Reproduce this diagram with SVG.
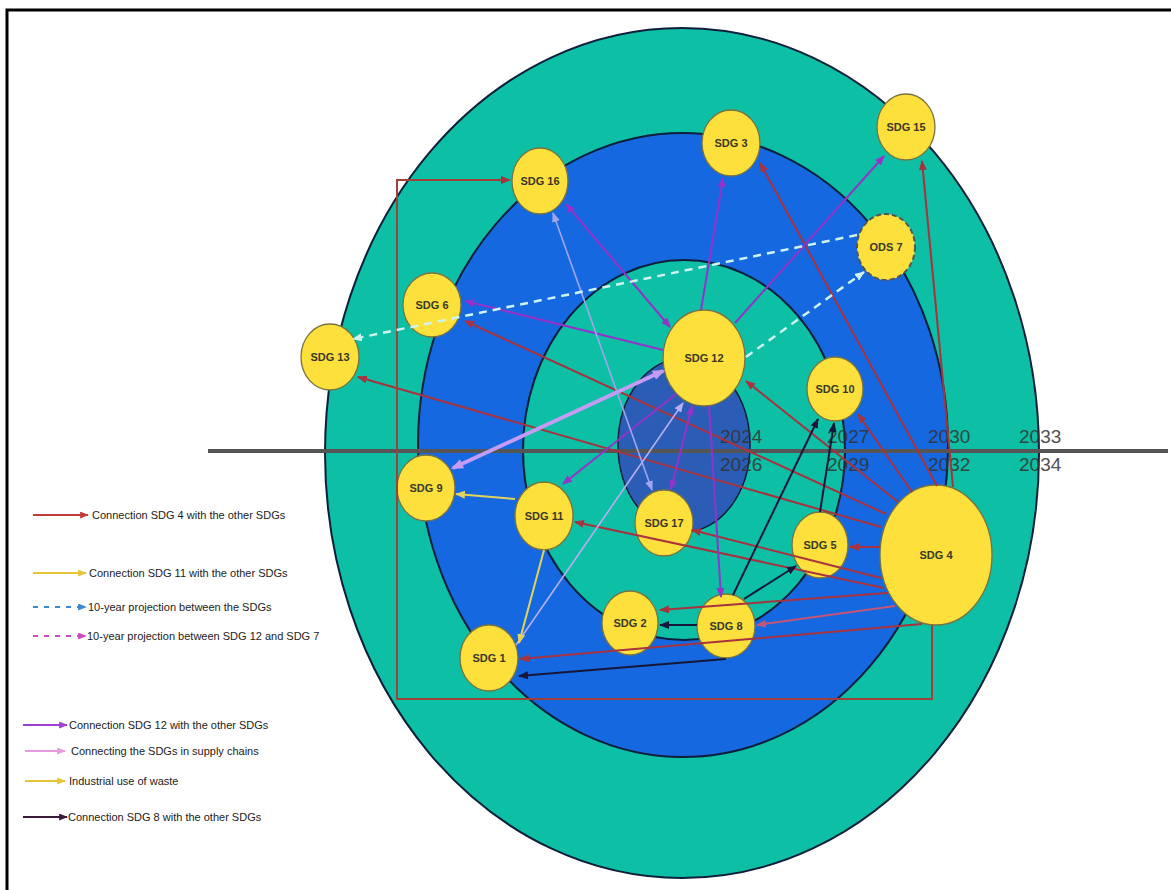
<svg xmlns="http://www.w3.org/2000/svg" width="1171" height="890" viewBox="0 0 1171 890">
<style>
.lbl{font-family:"Liberation Sans",Arial,sans-serif;font-size:11px;font-weight:bold;fill:#3a3826;text-anchor:middle}
.leg{font-family:"Liberation Sans",Arial,sans-serif;font-size:11px;fill:#222}
.yr{font-family:"Liberation Sans",Arial,sans-serif;font-size:19px;fill:#333;opacity:0.85}
.node{fill:#FDE03C;stroke:#7a7340;stroke-width:1.3}
.c{fill:none;stroke-width:2}
.red{stroke:#A8323E}
.pur{stroke:#9433C9}
.lav{stroke:#C49BF5;stroke-width:4}
.lav2{stroke:#B8AEF5;stroke-width:1.6}
.blu{stroke:#9FA6EE;stroke-width:1.6}
.yel{stroke:#E3D35A}
.cyan{stroke:#CFF3EF;stroke-width:2.5;stroke-dasharray:8 6}
.dark{stroke:#15173A}
</style>
<defs>
<marker id="mR" viewBox="0 0 10 8" refX="9" refY="4" markerWidth="10" markerHeight="8" markerUnits="userSpaceOnUse" orient="auto-start-reverse"><path d="M0,0 L10,4 L0,8 z" fill="#A8323E"/></marker>
<marker id="mP" viewBox="0 0 10 8" refX="9" refY="4" markerWidth="10" markerHeight="8" markerUnits="userSpaceOnUse" orient="auto-start-reverse"><path d="M0,0 L10,4 L0,8 z" fill="#C55675"/></marker>
<marker id="mU" viewBox="0 0 10 8" refX="9" refY="4" markerWidth="10" markerHeight="8" markerUnits="userSpaceOnUse" orient="auto-start-reverse"><path d="M0,0 L10,4 L0,8 z" fill="#9433C9"/></marker>
<marker id="mL" viewBox="0 0 10 8" refX="8" refY="4" markerWidth="13" markerHeight="10" markerUnits="userSpaceOnUse" orient="auto-start-reverse"><path d="M0,0 L10,4 L0,8 z" fill="#C49BF5"/></marker>
<marker id="mL2" viewBox="0 0 10 8" refX="9" refY="4" markerWidth="10" markerHeight="8" markerUnits="userSpaceOnUse" orient="auto-start-reverse"><path d="M0,0 L10,4 L0,8 z" fill="#B8AEF5"/></marker>
<marker id="mB" viewBox="0 0 10 8" refX="9" refY="4" markerWidth="10" markerHeight="8" markerUnits="userSpaceOnUse" orient="auto-start-reverse"><path d="M0,0 L10,4 L0,8 z" fill="#9FA6EE"/></marker>
<marker id="mY" viewBox="0 0 10 8" refX="9" refY="4" markerWidth="10" markerHeight="8" markerUnits="userSpaceOnUse" orient="auto-start-reverse"><path d="M0,0 L10,4 L0,8 z" fill="#E3D35A"/></marker>
<marker id="mC" viewBox="0 0 10 8" refX="9" refY="4" markerWidth="10" markerHeight="8" markerUnits="userSpaceOnUse" orient="auto-start-reverse"><path d="M0,0 L10,4 L0,8 z" fill="#CFF3EF"/></marker>
<marker id="mD" viewBox="0 0 10 8" refX="9" refY="4" markerWidth="10" markerHeight="8" markerUnits="userSpaceOnUse" orient="auto-start-reverse"><path d="M0,0 L10,4 L0,8 z" fill="#15173A"/></marker>
<marker id="lR" viewBox="0 0 10 8" refX="9" refY="4" markerWidth="9" markerHeight="7" markerUnits="userSpaceOnUse" orient="auto"><path d="M0,0 L10,4 L0,8 z" fill="#C23B3B"/></marker>
<marker id="lY" viewBox="0 0 10 8" refX="9" refY="4" markerWidth="9" markerHeight="7" markerUnits="userSpaceOnUse" orient="auto"><path d="M0,0 L10,4 L0,8 z" fill="#E6C43C"/></marker>
<marker id="lB" viewBox="0 0 10 8" refX="9" refY="4" markerWidth="9" markerHeight="7" markerUnits="userSpaceOnUse" orient="auto"><path d="M0,0 L10,4 L0,8 z" fill="#3A8AD0"/></marker>
<marker id="lM" viewBox="0 0 10 8" refX="9" refY="4" markerWidth="9" markerHeight="7" markerUnits="userSpaceOnUse" orient="auto"><path d="M0,0 L10,4 L0,8 z" fill="#D04AC8"/></marker>
<marker id="lU" viewBox="0 0 10 8" refX="9" refY="4" markerWidth="9" markerHeight="7" markerUnits="userSpaceOnUse" orient="auto"><path d="M0,0 L10,4 L0,8 z" fill="#A040D0"/></marker>
<marker id="lK" viewBox="0 0 10 8" refX="9" refY="4" markerWidth="9" markerHeight="7" markerUnits="userSpaceOnUse" orient="auto"><path d="M0,0 L10,4 L0,8 z" fill="#E89AE0"/></marker>
<marker id="lD" viewBox="0 0 10 8" refX="9" refY="4" markerWidth="9" markerHeight="7" markerUnits="userSpaceOnUse" orient="auto"><path d="M0,0 L10,4 L0,8 z" fill="#3A1A3A"/></marker>
</defs>
<rect width="1171" height="890" fill="#fff"/>
<rect x="7" y="10" width="1200" height="920" fill="none" stroke="#000" stroke-width="3"/>
<g id="rings">
<ellipse cx="682" cy="453" rx="357" ry="425" fill="#0CBFA5" stroke="#0D1F3A" stroke-width="2"/>
<ellipse cx="683" cy="445" rx="265" ry="312" fill="#1568E0" stroke="#0D1F3A" stroke-width="2"/>
<ellipse cx="684" cy="450" rx="161" ry="190" fill="#0CBFA5" stroke="#0D1F3A" stroke-width="2"/>
<ellipse cx="684" cy="445" rx="66" ry="87" fill="#2C5DB6" stroke="#0D1F3A" stroke-width="1.5"/>
</g>
<g id="timeline">
<line x1="208" y1="451" x2="1168" y2="451" stroke="#555" stroke-width="4"/>
<text class="yr" x="720" y="443">2024</text>
<text class="yr" x="720" y="471">2026</text>
<text class="yr" x="827" y="443">2027</text>
<text class="yr" x="827" y="471">2029</text>
<text class="yr" x="928" y="443">2030</text>
<text class="yr" x="928" y="471">2032</text>
<text class="yr" x="1019" y="443">2033</text>
<text class="yr" x="1019" y="471">2034</text>
</g>
<g id="nodes">
<g id="sdg3"><ellipse class="node" cx="731" cy="143" rx="29" ry="33"/><text class="lbl" x="731" y="147">SDG 3</text></g>
<g id="sdg15"><ellipse class="node" cx="906" cy="127" rx="29" ry="33"/><text class="lbl" x="906" y="131">SDG 15</text></g>
<g id="sdg16"><ellipse class="node" cx="540" cy="181" rx="28" ry="33"/><text class="lbl" x="540" y="185">SDG 16</text></g>
<g id="sdg6"><ellipse class="node" cx="432" cy="305" rx="29" ry="32"/><text class="lbl" x="432" y="309">SDG 6</text></g>
<g id="sdg13"><ellipse class="node" cx="330" cy="357" rx="29" ry="33"/><text class="lbl" x="330" y="361">SDG 13</text></g>
<g id="ods7"><ellipse cx="886" cy="247" rx="29" ry="33" fill="#FDE03C" stroke="#555" stroke-width="2" stroke-dasharray="5 3"/><text class="lbl" x="886" y="251">ODS 7</text></g>
<g id="sdg12"><ellipse class="node" cx="704" cy="358" rx="41" ry="48"/><text class="lbl" x="704" y="362">SDG 12</text></g>
<g id="sdg10"><ellipse class="node" cx="835" cy="389" rx="28" ry="32"/><text class="lbl" x="835" y="393">SDG 10</text></g>
<g id="sdg17"><ellipse class="node" cx="664" cy="523" rx="29" ry="33"/><text class="lbl" x="664" y="527">SDG 17</text></g>
<g id="sdg9"><ellipse class="node" cx="426" cy="488" rx="29" ry="33"/><text class="lbl" x="426" y="492">SDG 9</text></g>
<g id="sdg11"><ellipse class="node" cx="544" cy="516" rx="29" ry="34"/><text class="lbl" x="544" y="520">SDG 11</text></g>
<g id="sdg2"><ellipse class="node" cx="630" cy="623" rx="28" ry="32"/><text class="lbl" x="630" y="627">SDG 2</text></g>
<g id="sdg1"><ellipse class="node" cx="489" cy="658" rx="29" ry="33"/><text class="lbl" x="489" y="662">SDG 1</text></g>
<g id="sdg8"><ellipse class="node" cx="726" cy="626" rx="29" ry="32"/><text class="lbl" x="726" y="630">SDG 8</text></g>
<g id="sdg5"><ellipse class="node" cx="820" cy="545" rx="28" ry="33"/><text class="lbl" x="820" y="549">SDG 5</text></g>
<g id="sdg4"><ellipse class="node" cx="936" cy="555" rx="56" ry="70"/><text class="lbl" x="936" y="559">SDG 4</text></g>
</g>
<g id="connectors">
<path class="c red" d="M953,487 L922,161" marker-end="url(#mR)"/>
<path class="c red" d="M937,486 L760,163" marker-end="url(#mR)"/>
<path class="c red" d="M912,492 L858,414" marker-end="url(#mR)"/>
<path class="c red" d="M898,502 L746,381" marker-end="url(#mR)"/>
<path class="c red" d="M886,514 L465,321" marker-end="url(#mR)"/>
<path class="c red" d="M881,527 L358,377" marker-end="url(#mR)"/>
<path class="c red" d="M880,547 L850,547" marker-end="url(#mR)"/>
<path class="c red" d="M881,578 L692,530" marker-end="url(#mR)"/>
<path class="c red" d="M884,588 L575,522" marker-end="url(#mR)"/>
<path class="c red" d="M887,593 L660,610" marker-end="url(#mR)"/>
<path class="c" stroke="#C55675" d="M895,606 L757,625" marker-end="url(#mP)"/>
<path class="c red" d="M922,624 L520,659" marker-end="url(#mR)"/>
<path class="c" stroke="#A0403A" d="M932,625 L932,699 L397,699 L397,180 L510,180" marker-end="url(#mR)"/>
<path class="c pur" d="M701,310 L723,178" marker-end="url(#mU)"/>
<path class="c pur" d="M735,323 L884,156" marker-end="url(#mU)"/>
<path class="c pur" d="M670,327 L566,204" marker-start="url(#mU)" marker-end="url(#mU)"/>
<path class="c pur" d="M663,350 L465,301" marker-end="url(#mU)"/>
<path class="c pur" d="M676,394 L563,484" marker-end="url(#mU)"/>
<path class="c pur" d="M692,406 L671,489" marker-start="url(#mU)" marker-end="url(#mU)"/>
<path class="c pur" d="M709,406 L721,597" marker-end="url(#mU)"/>
<path class="c lav" d="M663,371 L453,468" marker-start="url(#mL)" marker-end="url(#mL)"/>
<path class="c lav2" d="M516,645 L683,403" marker-end="url(#mL2)"/>
<path class="c blu" d="M553,213 L652,490" marker-start="url(#mB)" marker-end="url(#mB)"/>
<path class="c yel" d="M515,499 L456,494" marker-end="url(#mY)"/>
<path class="c yel" d="M544,550 L519,643" marker-end="url(#mY)"/>
<path class="c cyan" d="M857,235 L353,339" marker-end="url(#mC)"/>
<path class="c cyan" d="M746,357 L864,272" marker-end="url(#mC)"/>
<path class="c dark" d="M733,595 L818,419" marker-end="url(#mD)"/>
<path class="c dark" d="M744,599 L796,566" marker-end="url(#mD)"/>
<path class="c dark" d="M697,625 L660,625" marker-end="url(#mD)"/>
<path class="c dark" d="M726,659 L519,676" marker-end="url(#mD)"/>
<path class="c dark" d="M820,512 L834,423" marker-end="url(#mD)"/>
</g>
<g id="legend">
<line x1="33" y1="515" x2="88" y2="515" stroke="#C23B3B" stroke-width="2" marker-end="url(#lR)"/>
<text class="leg" x="92" y="519">Connection SDG 4 with the other SDGs</text>
<line x1="33" y1="573" x2="86" y2="573" stroke="#E6C43C" stroke-width="2" marker-end="url(#lY)"/>
<text class="leg" x="89" y="577">Connection SDG 11 with the other SDGs</text>
<line x1="33" y1="607" x2="86" y2="607" stroke="#3A8AD0" stroke-width="2" stroke-dasharray="5 6" marker-end="url(#lB)"/>
<text class="leg" x="88" y="611">10-year projection between the SDGs</text>
<line x1="33" y1="636" x2="86" y2="636" stroke="#D04AC8" stroke-width="2" stroke-dasharray="5 6" marker-end="url(#lM)"/>
<text class="leg" x="87" y="640">10-year projection between SDG 12 and SDG 7</text>
<line x1="23" y1="725" x2="67" y2="725" stroke="#A040D0" stroke-width="2" marker-end="url(#lU)"/>
<text class="leg" x="69" y="729">Connection SDG 12 with the other SDGs</text>
<line x1="25" y1="751" x2="65" y2="751" stroke="#E89AE0" stroke-width="2" marker-end="url(#lK)"/>
<text class="leg" x="71" y="755">Connecting the SDGs in supply chains</text>
<line x1="25" y1="781" x2="65" y2="781" stroke="#E6C43C" stroke-width="2" marker-end="url(#lY)"/>
<text class="leg" x="69" y="785">Industrial use of waste</text>
<line x1="23" y1="817" x2="67" y2="817" stroke="#3A1A3A" stroke-width="2" marker-end="url(#lD)"/>
<text class="leg" x="68" y="821">Connection SDG 8 with the other SDGs</text>
</g>
</svg>
